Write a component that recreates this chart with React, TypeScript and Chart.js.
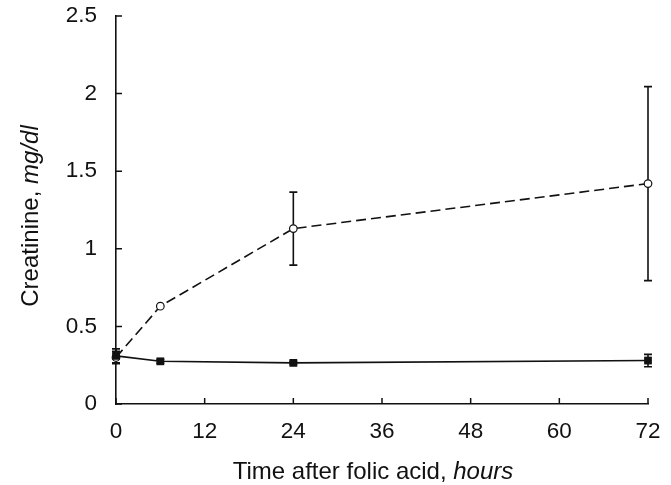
import React, { useEffect, useRef } from "react";
import { Chart, registerables } from "chart.js";

Chart.register(...registerables);

const hours = [0, 6, 24, 72];
const folicMean = [0.3, 0.63, 1.13, 1.42];
const folicSD = [0.04, 0, 0.235, 0.625];
const controlMean = [0.31, 0.275, 0.265, 0.28];
const controlSD = [0.045, 0.012, 0.01, 0.04];
const xTicks = [0, 12, 24, 36, 48, 60, 72];
const yTicks = [0, 0.5, 1, 1.5, 2, 2.5];
const xTitle = ["Time after folic acid, ", "hours"];
const yTitle = ["Creatinine, ", "mg/dl"];

const FONT = "'Liberation Sans', Arial, Helvetica, sans-serif";
const FS = 22.5;
const TFS = 24;

const errorBarPlugin = {
  id: "errorBars",
  beforeDatasetsDraw(chart: any) {
    const ctx = chart.ctx;
    const xs = chart.scales.x;
    const ys = chart.scales.y;
    ctx.save();
    ctx.strokeStyle = "#111";
    ctx.lineWidth = 1.6;
    chart.data.datasets.forEach((ds: any) => {
      const sd: number[] = ds.sd || [];
      ds.data.forEach((p: any, i: number) => {
        const e = sd[i];
        if (!e) return;
        const x = xs.getPixelForValue(p.x);
        const y1 = ys.getPixelForValue(p.y - e);
        const y2 = ys.getPixelForValue(p.y + e);
        ctx.beginPath();
        ctx.moveTo(x, y1);
        ctx.lineTo(x, y2);
        ctx.moveTo(x - 4, y1);
        ctx.lineTo(x + 4, y1);
        ctx.moveTo(x - 4, y2);
        ctx.lineTo(x + 4, y2);
        ctx.stroke();
      });
    });
    ctx.restore();
  },
  afterDraw(chart: any) {
    const ctx = chart.ctx;
    const xs = chart.scales.x;
    const ys = chart.scales.y;
    const area = chart.chartArea;
    ctx.save();
    ctx.strokeStyle = "#111";
    ctx.lineWidth = 1.5;
    ctx.beginPath();
    xTicks.forEach((v) => {
      const x = xs.getPixelForValue(v);
      ctx.moveTo(x, area.bottom);
      ctx.lineTo(x, area.bottom - 6);
    });
    yTicks.forEach((v) => {
      const y = ys.getPixelForValue(v);
      ctx.moveTo(area.left, y);
      ctx.lineTo(area.left + 6, y);
    });
    ctx.stroke();

    const drawMixed = (parts: string[]) => {
      const f0 = `${TFS}px ${FONT}`;
      const f1 = `italic ${TFS}px ${FONT}`;
      ctx.font = f0;
      const w0 = ctx.measureText(parts[0]).width;
      ctx.font = f1;
      const w1 = ctx.measureText(parts[1]).width;
      const total = w0 + w1;
      ctx.textBaseline = "alphabetic";
      ctx.textAlign = "left";
      ctx.fillStyle = "#111";
      ctx.font = f0;
      ctx.fillText(parts[0], -total / 2, 0);
      ctx.font = f1;
      ctx.fillText(parts[1], -total / 2 + w0, 0);
    };

    ctx.save();
    ctx.translate(373, 479);
    drawMixed(xTitle);
    ctx.restore();

    ctx.save();
    ctx.translate(38, 216);
    ctx.rotate(-Math.PI / 2);
    drawMixed(yTitle);
    ctx.restore();

    ctx.restore();
  },
};

export default function App() {
  const ref = useRef<HTMLCanvasElement>(null);
  useEffect(() => {
    document.body.style.margin = "0";
    const chart = new Chart(ref.current as HTMLCanvasElement, {
      type: "line",
      data: {
        datasets: [
          {
            label: "Folic acid",
            data: hours.map((h, i) => ({ x: h, y: folicMean[i] })),
            sd: folicSD,
            order: 2,
            borderColor: "#111",
            borderWidth: 1.6,
            borderDash: [10, 5],
            pointStyle: "circle",
            pointRadius: 3.8,
            pointBackgroundColor: "#fff",
            pointBorderColor: "#111",
            pointBorderWidth: 1.2,
            tension: 0,
          } as any,
          {
            label: "Control",
            data: hours.map((h, i) => ({ x: h, y: controlMean[i] })),
            sd: controlSD,
            order: 1,
            borderColor: "#111",
            borderWidth: 1.6,
            pointStyle: "rect",
            pointRadius: 5.5,
            pointBackgroundColor: "#111",
            pointBorderColor: "#111",
            pointBorderWidth: 0,
            tension: 0,
          } as any,
        ],
      },
      options: {
        animation: false,
        responsive: false,
        clip: false,
        layout: { padding: { top: 16, right: 23, left: 0, bottom: 0 } },
        plugins: { legend: { display: false }, tooltip: { enabled: false } },
        scales: {
          x: {
            type: "linear",
            min: 0,
            max: 72,
            afterBuildTicks: (s: any) => {
              s.ticks = xTicks.map((v) => ({ value: v }));
            },
            afterFit: (s: any) => {
              s.height = 81;
              s.paddingLeft = 0;
              s.paddingRight = 0;
            },
            grid: { display: true, drawOnChartArea: false, drawTicks: false },
            border: { display: true, color: "#111", width: 1.6 },
            ticks: {
              padding: 14,
              color: "#111",
              font: { family: FONT, size: FS },
              maxRotation: 0,
              callback: (v: any) => String(v),
            },
          },
          y: {
            type: "linear",
            min: 0,
            max: 2.5,
            afterBuildTicks: (s: any) => {
              s.ticks = yTicks.map((v) => ({ value: v }));
            },
            afterFit: (s: any) => {
              s.width = 116;
              s.paddingTop = 0;
              s.paddingBottom = 0;
            },
            grid: { display: true, drawOnChartArea: false, drawTicks: false },
            border: { display: true, color: "#111", width: 1.6 },
            ticks: {
              padding: 19,
              color: "#111",
              font: { family: FONT, size: FS },
              callback: (v: any) => String(v),
            },
          },
        },
      } as any,
      plugins: [errorBarPlugin],
    });
    return () => chart.destroy();
  }, []);
  return (
    <div style={{ position: "absolute", left: 0, top: 0, width: 671, height: 485 }}>
      <canvas ref={ref} width={671} height={485} style={{ width: 671, height: 485 }} />
    </div>
  );
}
